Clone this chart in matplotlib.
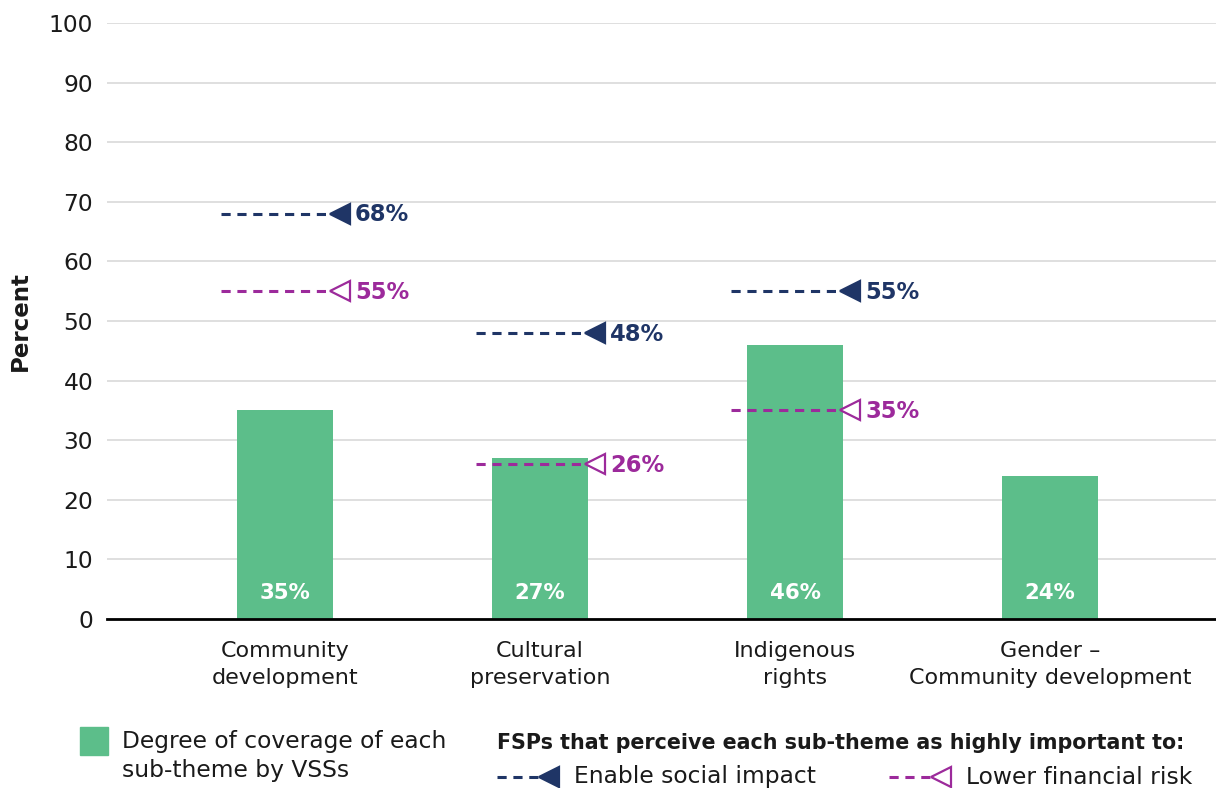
import matplotlib
matplotlib.use("Agg")
import matplotlib.pyplot as plt
from matplotlib.lines import Line2D
from matplotlib.patches import Rectangle
import numpy as np

categories = ["Community\ndevelopment", "Cultural\npreservation", "Indigenous\nrights",
              "Gender \u2013\nCommunity development"]
coverage = [35, 27, 46, 24]
social_impact = [68, 48, 55, None]
financial_risk = [55, 26, 35, None]
yticks = [0, 10, 20, 30, 40, 50, 60, 70, 80, 90, 100]

GREEN = "#5CBE8A"
NAVY = "#1F3566"
PURPLE = "#9C2A9B"
TEXT = "#1a1a1a"

plt.rcParams['font.family'] = ['DejaVu Sans']

fig = plt.figure(figsize=(12.16, 7.88), dpi=100)
ax = fig.add_axes([107/1216, 1-619/788, 1-107/1216, (619-23)/788])

x = np.arange(len(categories))
ax.bar(x, coverage, width=0.38, color=GREEN, zorder=2)
for xi, v in zip(x, coverage):
    ax.text(xi, 4.3, f"{v}%", ha="center", va="center", color="white",
            fontsize=15.3, fontweight="bold", zorder=3)

def draw_markers(vals, color, filled):
    for xi, v in zip(x, vals):
        if v is None:
            continue
        ax.plot([xi - 0.25, xi + 0.19], [v, v], color=color, lw=2.2,
                dashes=(3, 2.2), zorder=3)
        ax.plot([xi + 0.215], [v], marker="<", markersize=15,
                markerfacecolor=color if filled else "white",
                markeredgecolor=color, markeredgewidth=1.6, zorder=4)
        ax.text(xi + 0.275, v - 0.2, f"{v}%", ha="left", va="center",
                color=color, fontsize=16.3, fontweight="bold", zorder=4)

draw_markers(social_impact, NAVY, True)
draw_markers(financial_risk, PURPLE, False)

ax.set_xlim(-0.698, 3.651)
ax.set_ylim(0, 100)
ax.set_yticks(yticks)
ax.set_yticklabels([str(t) for t in yticks], fontsize=16.8, color=TEXT)
ax.set_xticks(x)
ax.set_xticklabels(categories, fontsize=16, color=TEXT, linespacing=1.4)
ax.tick_params(axis="y", length=0, pad=10)
ax.tick_params(axis="x", length=0, pad=16)
ax.yaxis.grid(True, color="#d9d9d9", lw=1.2, zorder=0)
ax.set_axisbelow(True)
for s in ["top", "right", "left"]:
    ax.spines[s].set_visible(False)
ax.spines["bottom"].set_color("black")
ax.spines["bottom"].set_linewidth(2)
ax.spines["bottom"].set_zorder(5)
ax.set_ylabel("Percent", fontsize=16.5, fontweight="bold", color=TEXT, labelpad=12)

# Legend (figure coordinates, pixels)
W, H = 1216, 788
def fx(px): return px / W
def fy(py): return 1 - py / H

fig.patches.append(Rectangle((fx(80), fy(755)), 28/W, 28/H, transform=fig.transFigure,
                             color=GREEN))
fig.text(fx(122), fy(756), "Degree of coverage of each\nsub-theme by VSSs", fontsize=16.8,
         color=TEXT, ha="left", va="center", linespacing=1.3)
fig.text(fx(497), fy(743), "FSPs that perceive each sub-theme as highly important to:",
         fontsize=14.9, fontweight="bold", color=TEXT, ha="left", va="center")

def legend_entry(x0, label, color, filled):
    fig.add_artist(Line2D([fx(x0), fx(x0 + 45)], [fy(777), fy(777)], transform=fig.transFigure,
                          color=color, lw=2.2, dashes=(3, 2.2)))
    fig.add_artist(Line2D([fx(x0 + 52)], [fy(777)], transform=fig.transFigure,
                          marker="<", markersize=15, markerfacecolor=color if filled else "white",
                          markeredgecolor=color, markeredgewidth=1.6, linestyle="none"))
    fig.text(fx(x0 + 77), fy(777), label, fontsize=16.8, color=TEXT, ha="left", va="center")

legend_entry(497, "Enable social impact", NAVY, True)
legend_entry(889, "Lower financial risk", PURPLE, False)

fig.savefig("out.png", dpi=100)
